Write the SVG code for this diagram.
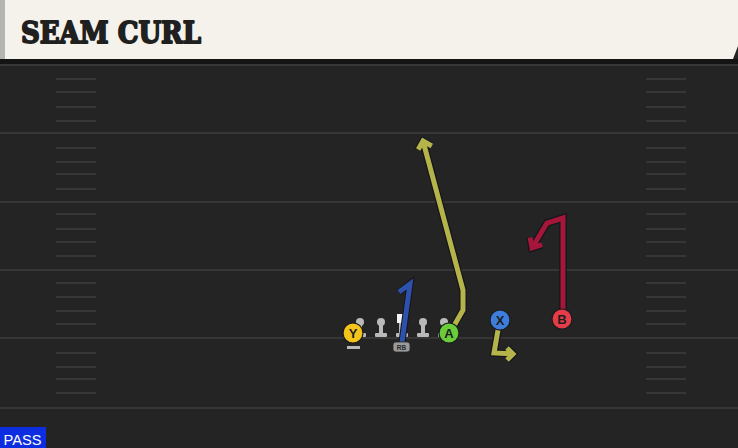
<svg xmlns="http://www.w3.org/2000/svg" xmlns:xlink="http://www.w3.org/1999/xlink" width="738" height="448" viewBox="0 0 738 448">
<style>
.yard{stroke:#363636;stroke-width:2}
.hash{stroke:#363636;stroke-width:2}
.outline{fill:none;stroke:#15151c;stroke-width:7.5;stroke-linejoin:miter;stroke-linecap:butt}
.route{fill:none;stroke-width:5;stroke-linejoin:miter;stroke-linecap:butt}
.olive{stroke:#b4b44a}
.crimson{stroke:#a5163a}
.navy{stroke:#2d52ad}
.pl{stroke:#1c1c1c;stroke-width:1.2}
.lbl{font-family:"Liberation Sans",Arial,sans-serif;font-weight:bold;font-size:13px;fill:#1e1e1e;text-anchor:middle}
.lineman{fill:#b9b9b9}
</style>
<defs>
<g id="man">
<circle cx="0" cy="-11" r="4"/>
<rect x="-2" y="-9" width="4" height="9"/>
<rect x="-6" y="0" width="12" height="4" rx="1"/>
</g>
<path id="r-a" d="M451 331 L463 310 L463 290 L423 141 M418.2 149.5 L423 141 L431.8 146"/>
<path id="r-b" d="M563 311 L563 218 L547 223 L532 248 M530.1 237.5 L532 248 L542.1 244.7"/>
<path id="r-x" d="M498 330 L494 353 L513 354 M507 348 L513 354 L507 360"/>
<path id="r-rb" d="M402 342 L410 284 L399 292"/>
</defs>
<rect x="0" y="0" width="738" height="448" fill="#242424"/>
<rect x="0" y="59" width="738" height="5" fill="#141414"/>
<g id="field">
<line class="yard" x1="0" y1="65" x2="738" y2="65"/>
<line class="yard" x1="0" y1="133" x2="738" y2="133"/>
<line class="yard" x1="0" y1="202" x2="738" y2="202"/>
<line class="yard" x1="0" y1="270" x2="738" y2="270"/>
<line class="yard" x1="0" y1="338" x2="738" y2="338"/>
<line class="yard" x1="0" y1="408" x2="738" y2="408"/>
<g class="hash">
<path d="M56 79H96M56 92H96M56 107H96M56 121H96M56 148H96M56 162H96M56 174H96M56 189H96M56 214H96M56 229H96M56 242H96M56 256H96M56 283H96M56 297H96M56 311H96M56 324H96M56 353H96M56 367H96M56 379H96M56 393H96"/>
<path d="M646 79H686M646 92H686M646 107H686M646 121H686M646 148H686M646 162H686M646 174H686M646 189H686M646 214H686M646 229H686M646 242H686M646 256H686M646 283H686M646 297H686M646 311H686M646 324H686M646 353H686M646 367H686M646 379H686M646 393H686"/>
</g>
</g>
<g id="title">
<polygon points="0,0 738,0 738,46 733,59 0,59" fill="#f5f2eb"/>
<rect x="0" y="0" width="5" height="59" fill="#b3b5b1"/>
<text x="21" y="43" font-family="'DejaVu Serif',serif" font-weight="bold" font-size="29" fill="#202020" stroke="#202020" stroke-width="1.8" stroke-linejoin="round" textLength="180" lengthAdjust="spacingAndGlyphs">SEAM CURL</text>
</g>
<g id="connectors">
<use href="#r-a" class="outline"/><use href="#r-a" class="route olive"/>
<use href="#r-b" class="outline"/><use href="#r-b" class="route crimson"/>
<use href="#r-x" class="outline"/><use href="#r-x" class="route olive"/>
</g>
<g id="line" class="lineman">
<use href="#man" x="360" y="333"/>
<use href="#man" x="381" y="333"/>
<use href="#man" x="423" y="333"/>
<use href="#man" x="444" y="333"/>
</g>
<g id="center">
<rect x="399" y="322" width="6" height="11" fill="#b9b9b9"/>
<rect x="396" y="333" width="12" height="4" rx="1" fill="#b9b9b9"/>
<rect x="397" y="314" width="9" height="9" fill="#f4f4f4"/>
</g>
<g id="rb-route">
<use href="#r-rb" class="outline" style="stroke-width:7"/><use href="#r-rb" class="route navy"/>
</g>
<g id="node-rb">
<rect x="393" y="342" width="17" height="10" rx="3" fill="#9a9a9a" stroke="#2a2a2a" stroke-width="0.8"/>
<text x="401.5" y="350" font-family="'Liberation Sans',Arial,sans-serif" font-weight="bold" font-size="6.5" fill="#2a2a2a" text-anchor="middle">RB</text>
</g>
<g id="node-y">
<rect x="347" y="346" width="13" height="3" fill="#b9b9b9"/>
<circle class="pl" cx="353" cy="333" r="10" fill="#f2c41c"/>
<text class="lbl" x="353" y="337.7">Y</text>
</g>
<g id="node-a">
<circle class="pl" cx="449" cy="333" r="10" fill="#69cc3a"/>
<text class="lbl" x="449" y="337.7">A</text>
</g>
<g id="node-x">
<circle class="pl" cx="500" cy="320" r="10" fill="#3f7ddd"/>
<text class="lbl" x="500" y="324.7">X</text>
</g>
<g id="node-b">
<circle class="pl" cx="562" cy="319" r="10" fill="#e63c4a"/>
<text class="lbl" x="562" y="323.7">B</text>
</g>
<g id="pass">
<rect x="0" y="427" width="46" height="21" fill="#0d2ee0"/>
<text x="3.5" y="445" font-family="'Liberation Sans',Arial,sans-serif" font-size="15.5" fill="#ffffff" textLength="38" lengthAdjust="spacingAndGlyphs">PASS</text>
</g>
</svg>
